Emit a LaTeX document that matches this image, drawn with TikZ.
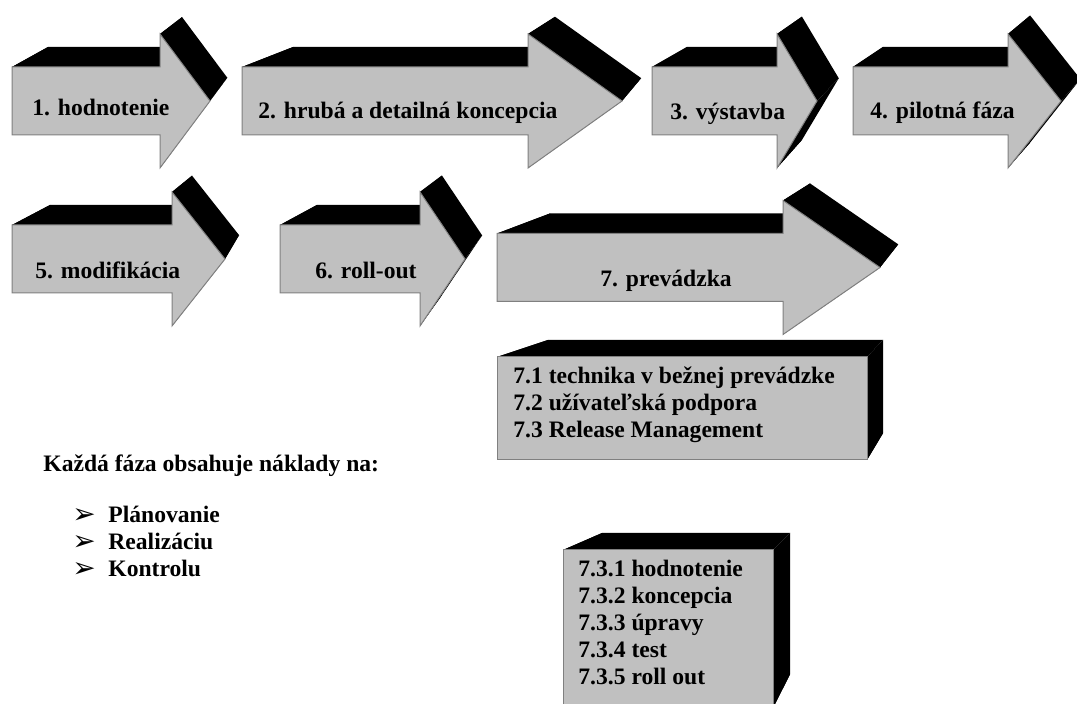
\documentclass[tikz,border=0pt]{standalone}
\usepackage{fontspec}
\setmainfont{Liberation Serif}
\newfontfamily\symfont{DejaVu Sans}
\usetikzlibrary{calc}

\definecolor{facegrey}{HTML}{C0C0C0}
\definecolor{edgegrey}{HTML}{808080}

\tikzset{
  sideface/.style={fill=black},
  frontface/.style={fill=facegrey,draw=edgegrey,line width=0.5pt},
  phase/.style={font=\fontsize{11.8}{13.6}\selectfont\bfseries,inner sep=0pt,anchor=base west,align=left},
}

% left, head base, tip, middle y, vanishing point x/y, depth
\newcommand{\phasearrow}[7]{%
  \coordinate (f1) at (#1,#4-34);
  \coordinate (f2) at (#2,#4-34);
  \coordinate (f3) at (#2,#4-67);
  \coordinate (f4) at (#3,#4);
  \coordinate (f5) at (#2,#4+67);
  \coordinate (f6) at (#2,#4+34);
  \coordinate (f7) at (#1,#4+34);
  \coordinate (vp) at (#5,#6);
  \foreach \i in {1,...,7}
    \coordinate (b\i) at ($(f\i)!#7!(vp)$);
  \foreach \i/\j in {1/2,2/3,3/4,4/5,5/6,6/7,7/1}
    \fill[sideface] (f\i) -- (f\j) -- (b\j) -- (b\i) -- cycle;
  \draw[frontface] (f1) -- (f2) -- (f3) -- (f4) -- (f5) -- (f6) -- (f7) -- cycle;
}

% left, top, right, bottom, vanishing point x/y, depth
\newcommand{\phasebox}[7]{%
  \coordinate (f1) at (#1,#2);
  \coordinate (f2) at (#3,#2);
  \coordinate (f3) at (#3,#4);
  \coordinate (f4) at (#1,#4);
  \coordinate (vp) at (#5,#6);
  \foreach \i in {1,...,4}
    \coordinate (b\i) at ($(f\i)!#7!(vp)$);
  \foreach \i/\j in {1/2,2/3,3/4,4/1}
    \fill[sideface] (f\i) -- (f\j) -- (b\j) -- (b\i) -- cycle;
  \draw[frontface] (f1) -- (f2) -- (f3) -- (f4) -- cycle;
}

\begin{document}
\begin{tikzpicture}[x=0.5pt,y=-0.5pt]
  \useasboundingbox (0,0) rectangle (1077,704);

  \phasearrow{12}{160}{210}{101}{392}{-144}{0.095}
  \phasearrow{242}{528}{622}{101}{850}{-171}{0.084}
  \phasearrow{652}{777}{817}{101}{1089}{-183}{0.08}
  \phasearrow{853}{1008}{1061}{101}{1434}{-321}{0.052}
  \phasearrow{12}{172}{225}{259}{350}{47}{0.1125}
  \phasearrow{280}{420}{465}{259}{625}{38}{0.107}
  \phasearrow{497}{783}{880}{267.5}{1080}{13}{0.091}
  \phasebox{497}{357}{867}{460}{1036}{177}{0.095}
  \phasebox{563}{550}{773}{708}{935}{388}{0.105}

  \node[phase] (hodnotenie) at (32,116) {1. hodnotenie};
  \node[phase] (koncepcia) at (258,119) {2. hrubá a detailná koncepcia};
  \node[phase] (vystavba) at (670,120) {3. výstavba};
  \node[phase] (pilot) at (870,119) {4. pilotná fáza};
  \node[phase] (modifikacia) at (35,279) {5. modifikácia};
  \node[phase] (rollout) at (315,279) {6. roll-out};
  \node[phase] (prevadzka) at (600,287) {7. prevádzka};

  \node[phase] (casti) at (513,438) {7.1 technika v bežnej prevádzke\\
    7.2 užívateľská podpora\\7.3 Release Management};
  \node[phase] (release) at (578,685) {7.3.1 hodnotenie\\7.3.2 koncepcia\\
    7.3.3 úpravy\\7.3.4 test\\7.3.5 roll out};

  \node[phase] (naklady) at (43,472) {Každá fáza obsahuje náklady na:};
  \foreach \t [count=\n] in {Plánovanie,Realizáciu,Kontrolu} {
    \node[phase,font=\symfont\fontsize{14}{15}\selectfont] (bod\n) at (72,497+27*\n) {➢};
    \node[phase] (polozka\n) at (108,496+27*\n) {\t};
  }
\end{tikzpicture}
\end{document}
